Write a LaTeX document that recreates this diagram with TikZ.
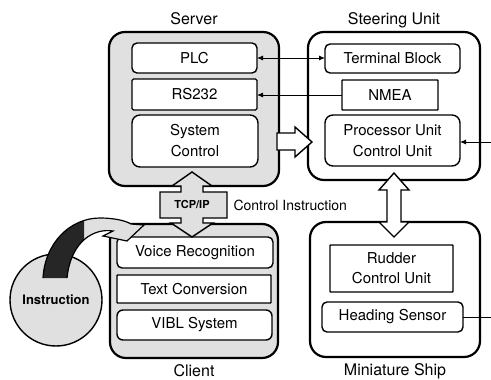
\documentclass[tikz,border=0pt]{standalone}
\usepackage{fontspec}
\setmainfont{TeX Gyre Heros}
\usetikzlibrary{arrows.meta}
\definecolor{stipple}{gray}{0.88}
\definecolor{darkband}{gray}{0.15}
\begin{document}
\begin{tikzpicture}[x=1pt,y=-1pt,
  groupbox/.style={draw, line width=2.2pt, rounded corners=16pt, inner sep=0pt, outer sep=0pt},
  unitbox/.style={draw, line width=1.4pt, fill=white, rounded corners=#1, inner sep=0pt,
    outer sep=0pt, align=center, font=\fontsize{15}{21}\selectfont},
  unitbox/.default=5pt,
  grouplabel/.style={font=\fontsize{16}{18}\selectfont},
  conn/.style={line width=0.9pt, -{Latex[length=6pt,width=5pt]}},
  bigarrow/.style={draw, line width=1.4pt, line join=miter}]
  \useasboundingbox (0,0) rectangle (491,380);
  % Server
  \node[groupbox, fill=stipple, minimum width=170pt, minimum height=154pt] (server) at (194,109) {};
  \node[grouplabel] (serverlbl) at (194,19) {Server};
  \node[unitbox, minimum width=125pt, minimum height=30pt] (plc) at (194.5,58) {PLC};
  \node[unitbox=1.5pt, minimum width=125pt, minimum height=31pt] (rs) at (194.5,94.5) {RS232};
  \node[unitbox=8pt, minimum width=126pt, minimum height=52pt] (sys) at (195,141) {System\\Control};
  % Steering Unit
  \node[groupbox, minimum width=172pt, minimum height=148pt] (steer) at (394,106) {};
  \node[grouplabel] (steerlbl) at (394,20) {Steering Unit};
  \node[unitbox, minimum width=135pt, minimum height=29pt] (term) at (392.5,58.5) {Terminal Block};
  \node[unitbox=0.6pt, minimum width=96pt, minimum height=30pt] (nmea) at (390,95) {NMEA};
  \node[unitbox=8pt, minimum width=135pt, minimum height=51pt] (proc) at (392.5,140.5) {Processor Unit\\Control Unit};
  % Client
  \node[groupbox, fill=stipple, minimum width=168pt, minimum height=134pt] (client) at (194,291) {};
  \node[grouplabel] (clientlbl) at (194,371) {Client};
  \node[unitbox, minimum width=156pt, minimum height=31pt] (voice) at (195,252.5) {Voice Recognition};
  \node[unitbox=0.6pt, minimum width=154pt, minimum height=28pt] (text) at (194,289) {Text Conversion};
  \node[unitbox=6pt, minimum width=155pt, minimum height=30pt] (vibl) at (194.5,325) {VIBL System};
  % Miniature Ship
  \node[groupbox, minimum width=170pt, minimum height=135pt] (ship) at (395,289.5) {};
  \node[grouplabel] (shiplbl) at (395,371) {Miniature Ship};
  \node[unitbox=0.6pt, minimum width=123pt, minimum height=47pt, font=\fontsize{15}{20}\selectfont] (rudder) at (391.5,268.5) {Rudder\\Control Unit};
  \node[unitbox, minimum width=141pt, minimum height=30pt] (head) at (392.5,317) {Heading Sensor};
  % TCP/IP link
  \filldraw[bigarrow, fill=stipple] (192,172) -- (212,186) -- (203,186) -- (203,192) -- (227,192)
    -- (227,218) -- (203,218) -- (203,223) -- (213,223) -- (192,237) -- (171,223) -- (181,223)
    -- (181,218) -- (160,218) -- (160,192) -- (181,192) -- (181,186) -- (172,186) -- cycle;
  \node[font=\bfseries\fontsize{11}{13}\selectfont] (tcp) at (192,205) {TCP/IP};
  \node[anchor=west, font=\fontsize{14}{16}\selectfont] (ctrl) at (230,205) {Control Instruction};
  % Server to Steering Unit
  \filldraw[bigarrow, fill=white] (277,133) -- (295,133) -- (295,127) -- (312,142) -- (295,157)
    -- (295,150) -- (277,150) -- cycle;
  % Steering Unit to Miniature Ship
  \filldraw[bigarrow, fill=white] (394,173) -- (409,190) -- (401,190) -- (401,222) -- (409,222)
    -- (394,237) -- (379,222) -- (387,222) -- (387,190) -- (379,190) -- cycle;
  % Instruction
  \node[circle, draw, line width=1.4pt, fill=stipple, minimum size=92pt, inner sep=0pt,
    font=\bfseries\fontsize{13}{15}\selectfont] (instr) at (56,300) {Instruction};
  \fill[stipple] (43,278) .. controls (45,243) and (70,218) .. (100,218)
    .. controls (115,218) and (126,221) .. (131,224) -- (144,225) -- (127,241) -- (103,236)
    -- (113,231) .. controls (95,228) and (71,240) .. (67,278) -- cycle;
  \begin{scope}
    \clip (0,200) rectangle (84,290);
    \fill[darkband] (43,278) .. controls (45,243) and (70,218) .. (100,218)
      -- (113,231) .. controls (95,228) and (71,240) .. (67,278) -- cycle;
  \end{scope}
  \draw[line width=1.2pt, line join=miter] (43,278) .. controls (45,243) and (70,218) .. (100,218)
    .. controls (115,218) and (126,221) .. (131,224) -- (144,225) -- (127,241) -- (103,236)
    -- (113,231) .. controls (95,228) and (71,240) .. (67,278);
  % signal lines
  \coordinate (procin) at (491,142);
  \coordinate (headout) at (491,317);
  \draw[conn, {Latex[length=6pt,width=5pt]}-{Latex[length=6pt,width=5pt]}] (plc.east) -- (plc.east -| term.west);
  \draw[conn] (nmea.west) -- (nmea.west -| rs.east);
  \draw[conn] (procin) -- (procin -| proc.east);
  \draw[line width=0.9pt] (head.east) -- (headout);
\end{tikzpicture}
\end{document}
